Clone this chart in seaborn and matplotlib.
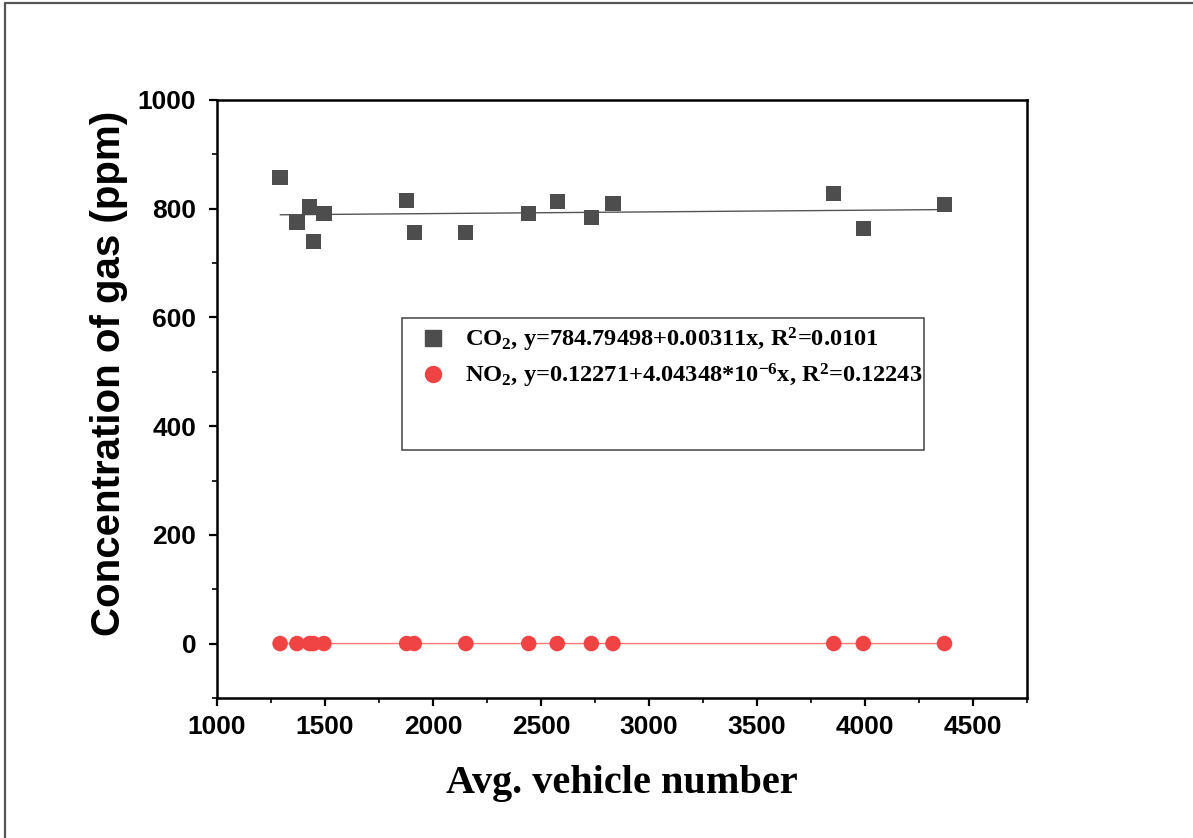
import numpy as np
import pandas as pd
import matplotlib
matplotlib.use('Agg')
import matplotlib.pyplot as plt
import seaborn as sns
from matplotlib.lines import Line2D
from matplotlib.patches import Rectangle
from matplotlib.ticker import MultipleLocator

# values
vehicles = [1292, 1370, 1429, 1446, 1495, 1878, 1913, 2152, 2443, 2575, 2733, 2833, 3855, 3992, 4368]
co2 = [857, 774, 803, 739, 791, 815, 756, 756, 791, 813, 784, 809, 828, 763, 808]
no2 = [0.13, 0.12, 0.14, 0.13, 0.12, 0.13, 0.14, 0.13, 0.14, 0.13, 0.14, 0.13, 0.14, 0.13, 0.14]

co2_intercept, co2_slope = 784.79498, 0.00311
no2_intercept, no2_slope = 0.12271, 4.04348e-6

co2_label = r'CO$_{2}$, y=784.79498+0.00311x, R$^{2}$=0.0101'
no2_label = r'NO$_{2}$, y=0.12271+4.04348*10$^{-6}$x, R$^{2}$=0.12243'

sq_color = '#4d4d4d'
red = '#f04444'

sns.set_style('ticks')
plt.rcParams['font.family'] = ['Liberation Sans', 'DejaVu Sans']
plt.rcParams['font.weight'] = 'bold'
plt.rcParams['text.color'] = 'black'
plt.rcParams['axes.labelcolor'] = 'black'
plt.rcParams['mathtext.fontset'] = 'custom'
plt.rcParams['mathtext.rm'] = 'Liberation Serif:bold'
plt.rcParams['mathtext.it'] = 'Liberation Serif:bold'
plt.rcParams['mathtext.bf'] = 'Liberation Serif:bold'

df = pd.DataFrame({'vehicles': vehicles, 'co2': co2, 'no2': no2})

fig = plt.figure(figsize=(11.93, 8.38), dpi=100)
ax = fig.add_axes([0.1819, 0.1671, 0.6790, 0.7136])

xfit = np.array([df['vehicles'].min(), df['vehicles'].max()])
sns.lineplot(x=xfit, y=co2_intercept + co2_slope * xfit, ax=ax, color='#555555', lw=1.0, zorder=2)
sns.lineplot(x=xfit, y=no2_intercept + no2_slope * xfit, ax=ax, color='#ff7878', lw=1.0, zorder=2)

sns.scatterplot(data=df, x='vehicles', y='co2', ax=ax, marker='s', s=120,
                color=sq_color, edgecolor='none', linewidth=0, zorder=3)
sns.scatterplot(data=df, x='vehicles', y='no2', ax=ax, marker='o', s=125,
                color=red, edgecolor='none', linewidth=0, zorder=3)

ax.set_xlim(1000, 4750)
ax.set_ylim(-100, 1000)
ax.xaxis.set_major_locator(MultipleLocator(500))
ax.xaxis.set_minor_locator(MultipleLocator(250))
ax.yaxis.set_major_locator(MultipleLocator(200))
ax.yaxis.set_minor_locator(MultipleLocator(100))
ax.set_xticks(np.arange(1000, 4501, 500))
ax.set_yticks(np.arange(0, 1001, 200))

for sp in ax.spines.values():
    sp.set_visible(True)
    sp.set_linewidth(1.8)
    sp.set_color('black')
ax.tick_params(which='major', direction='out', length=6, width=1.6, labelsize=19, colors='black')
ax.tick_params(axis='y', which='major', pad=9)
ax.tick_params(axis='x', which='major', pad=6)
ax.tick_params(which='minor', direction='out', length=3.5, width=1.4)
for t in ax.get_xticklabels() + ax.get_yticklabels():
    t.set_fontweight('bold')

ax.set_ylabel('Concentration of gas (ppm)', fontsize=29, fontweight='bold',
              family='Liberation Sans')
ax.yaxis.set_label_coords(-0.110, 0.5435)
ax.set_xlabel('Avg. vehicle number', fontsize=29, fontweight='bold',
              family='Liberation Serif', labelpad=19)

handles = [Line2D([], [], marker='s', ls='none', color=sq_color, markersize=11),
           Line2D([], [], marker='o', ls='none', color=red, markersize=11.5)]
ax.legend(handles, [co2_label, no2_label], loc='upper left', bbox_to_anchor=(0.237, 0.6217),
          frameon=False, borderpad=0, borderaxespad=0, handletextpad=0.3,
          labelspacing=0.3, prop={'family': 'Liberation Serif', 'weight': 'bold', 'size': 17.6})
ax.add_patch(Rectangle((0.228, 0.415), 0.645, 0.22, transform=ax.transAxes,
                       fill=False, ec='#444444', lw=1.1, zorder=4))

# outer frame lines (top and left only visible in the reference)
fig.add_artist(Line2D([0.0045, 1.0], [0.997, 0.997], transform=fig.transFigure, color='#555555', lw=1.6))
fig.add_artist(Line2D([0.0045, 0.0045], [0.0, 0.997], transform=fig.transFigure, color='#555555', lw=1.6))

fig.savefig('out.png', dpi=100)
